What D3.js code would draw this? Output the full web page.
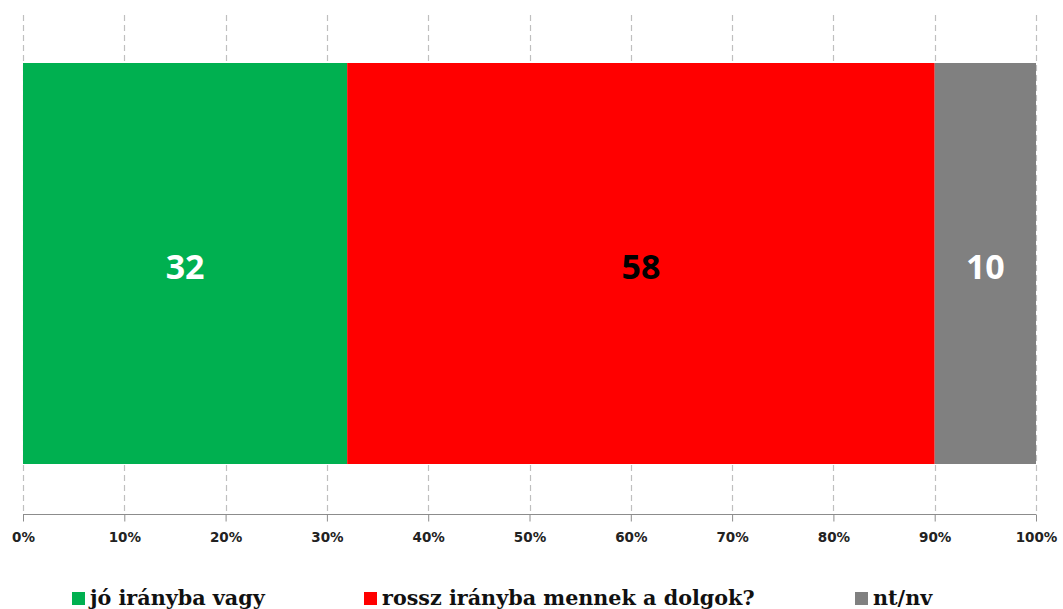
<!DOCTYPE html>
<head>
  <meta charset="utf-8">
  <script src="https://d3js.org/d3.v7.min.js"></script>
  <style>
    body { margin: 0; background: #fff; }
    .tick text { font-family: "DejaVu Sans", Verdana, sans-serif; font-weight: bold; font-size: 13.5px; fill: #222; }
    .legend text { font-family: "DejaVu Serif", Cambria, serif; font-weight: bold; font-size: 20.7px; fill: #111; }
    .val { font-family: "Open Sans", Calibri, sans-serif; font-weight: bold; font-size: 34px; }
  </style>
</head>
<body>
<script>
  // data
  var categories = ["jó irányba vagy", "rossz irányba mennek a dolgok?", "nt/nv"];
  var values = [32, 58, 10];
  var colors = ["#00b050", "#ff0000", "#808080"];
  var labelColors = ["#fff", "#000", "#fff"];
  var tickValues = [0, 10, 20, 30, 40, 50, 60, 70, 80, 90, 100];

  var width = 1063, height = 609;
  var svg = d3.select("body").append("svg")
      .attr("width", width)
      .attr("height", height);

  var x = d3.scaleLinear().domain([0, 100]).range([23, 1036]);

  // gridlines
  svg.append("g").selectAll("line")
    .data(tickValues)
    .enter().append("line")
      .attr("x1", function(d) { return Math.round(x(d)) + 0.5; })
      .attr("x2", function(d) { return Math.round(x(d)) + 0.5; })
      .attr("y1", 15)
      .attr("y2", 514)
      .attr("stroke", "#bfbfbf")
      .attr("stroke-width", 1.2)
      .attr("stroke-dasharray", "6,4");

  // stacked segments
  var start = 0;
  var segs = values.map(function(v, i) {
    var s = { x0: start, x1: start + v, v: v, i: i };
    start += v;
    return s;
  });

  svg.append("g").selectAll("rect")
    .data(segs)
    .enter().append("rect")
      .attr("x", function(d) { return x(d.x0); })
      .attr("width", function(d) { return x(d.x1) - x(d.x0); })
      .attr("y", 63)
      .attr("height", 401)
      .attr("fill", function(d) { return colors[d.i]; });

  svg.append("g").selectAll("text")
    .data(segs)
    .enter().append("text")
      .attr("class", "val")
      .attr("x", function(d) { return x((d.x0 + d.x1) / 2); })
      .attr("y", 267)
      .attr("dy", "0.35em")
      .attr("text-anchor", "middle")
      .attr("fill", function(d) { return labelColors[d.i]; })
      .text(function(d) { return d.v; });

  // axis
  var axis = svg.append("g")
      .attr("transform", "translate(0,514.5)")
      .call(d3.axisBottom(x).tickValues(tickValues).tickSize(7).tickPadding(11)
        .tickFormat(function(d) { return d + "%"; }));
  axis.select(".domain").attr("stroke", "#8c8c8c").attr("d", "M23,0H1036");
  axis.selectAll(".tick line").attr("stroke", "#8c8c8c");

  // legend
  var legendX = [72, 364, 855];
  var legend = svg.append("g").attr("class", "legend");
  var items = legend.selectAll("g")
    .data(categories)
    .enter().append("g")
      .attr("transform", function(d, i) { return "translate(" + legendX[i] + ",592)"; });
  items.append("rect")
      .attr("width", 13).attr("height", 13)
      .attr("fill", function(d, i) { return colors[i]; });
  items.append("text")
      .attr("x", 18)
      .attr("y", 13)
      .text(function(d) { return d; });
</script>
</body>
